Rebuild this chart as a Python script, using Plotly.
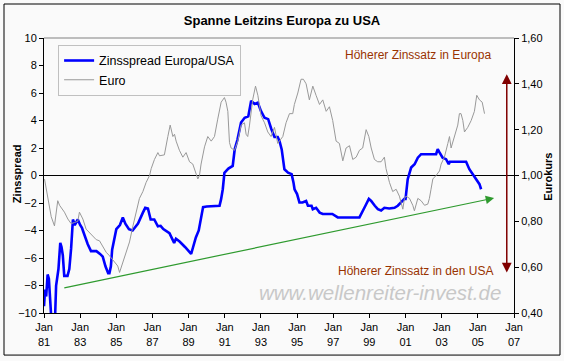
import plotly.graph_objects as go

# ---------------- data ----------------
spread_years = [1981.00, 1981.06, 1981.12, 1981.20, 1981.27, 1981.35, 1981.40, 1981.55, 1981.62, 1981.67,
                1981.80, 1981.90, 1981.97, 1982.04, 1982.12, 1982.30, 1982.40, 1982.50, 1982.60, 1982.70,
                1982.80, 1982.87, 1983.00, 1983.10, 1983.15, 1983.30, 1983.42, 1983.60, 1983.90, 1984.10,
                1984.25, 1984.40, 1984.55, 1984.62, 1984.70, 1984.77, 1984.90, 1985.00, 1985.20, 1985.36,
                1985.50, 1985.70, 1985.90, 1986.10, 1986.20, 1986.47, 1986.60, 1986.75, 1986.90, 1987.10,
                1987.30, 1987.45, 1987.60, 1987.94, 1988.20, 1988.30, 1988.50, 1988.80, 1989.14, 1989.25,
                1989.40, 1989.56, 1989.70, 1989.80, 1990.00, 1990.71, 1990.80, 1990.89, 1990.98, 1991.20,
                1991.44, 1991.55, 1991.70, 1991.90, 1992.10, 1992.30, 1992.46, 1992.65, 1992.83, 1993.00,
                1993.20, 1993.40, 1993.57, 1993.75, 1993.93, 1994.03, 1994.15, 1994.30, 1994.50, 1994.70,
                1994.80, 1994.86, 1995.00, 1995.13, 1995.30, 1995.50, 1995.60, 1995.80, 1995.87, 1996.05,
                1996.25, 1996.42, 1996.95, 1997.25, 1998.45, 1998.60, 1998.78, 1998.97, 1999.10, 1999.30,
                1999.47, 1999.65, 1999.83, 2000.10, 2000.39, 2000.57, 2000.76, 2000.94, 2001.00, 2001.04,
                2001.12, 2001.31, 2001.50, 2001.68, 2001.86, 2002.69, 2002.78, 2002.87, 2003.05, 2003.24,
                2003.39, 2003.45, 2004.35, 2004.53, 2004.72, 2004.90, 2005.09, 2005.18]
spread_values = [-9.5, -8.3, -8.8, -7.2, -7.5, -9.5, -10.3, -10.5, -10.0, -8.0,
                 -6.8, -4.9, -5.2, -5.8, -7.3, -7.3, -6.8, -5.3, -3.2, -3.6,
                 -3.4, -3.2, -3.6, -3.8, -4.0, -4.6, -5.0, -5.5, -5.5, -5.7,
                 -5.9, -6.6, -7.1, -7.1, -6.6, -5.4, -4.4, -3.9, -3.6, -3.05,
                 -3.5, -3.9, -4.0, -3.7, -3.5, -2.7, -2.35, -2.4, -3.2, -3.2,
                 -3.7, -3.66, -3.9, -4.2, -4.9, -4.6, -4.8, -5.2, -5.7, -5.2,
                 -4.5, -4.0, -2.9, -2.3, -2.25, -2.2, -1.7, -1.0, 0.2, 0.5,
                 0.7, 1.9, 2.6, 3.85, 4.2, 4.3, 5.43, 5.2, 5.3, 4.7,
                 4.2, 4.1, 3.4, 2.8, 2.8, 2.5, 1.9, 0.45, 0.2, 0.1,
                 -0.5, -1.0, -1.35, -1.96, -1.96, -1.85, -2.2, -2.2, -2.45, -2.35,
                 -2.7, -2.8, -2.8, -3.05, -3.05, -2.7, -2.2, -1.7, -1.85, -2.2,
                 -2.45, -2.55, -2.35, -2.4, -2.35, -2.2, -1.96, -1.7, -1.7, -1.24,
                 -0.27, 0.58, 0.82, 1.3, 1.55, 1.55, 1.92, 1.7, 1.3, 1.19,
                 0.82, 1.0, 1.0, 0.46, 0.1, -0.27, -0.63, -1.0]

euro_years = [1981.03, 1981.12, 1981.21, 1981.30, 1981.40, 1981.58, 1981.67, 1981.76, 1981.86, 1981.95,
              1982.13, 1982.32, 1982.50, 1982.69, 1982.87, 1982.96, 1983.15, 1983.33, 1983.52, 1983.70,
              1983.89, 1984.07, 1984.25, 1984.44, 1984.62, 1984.90, 1985.08, 1985.18, 1985.36, 1985.55,
              1985.73, 1985.92, 1986.10, 1986.28, 1986.47, 1986.65, 1986.84, 1986.93, 1987.11, 1987.30,
              1987.39, 1987.66, 1987.85, 1987.98, 1988.13, 1988.22, 1988.31, 1988.49, 1988.68, 1988.86,
              1989.05, 1989.23, 1989.42, 1989.51, 1989.60, 1989.69, 1989.88, 1990.06, 1990.25, 1990.43,
              1990.61, 1990.80, 1990.98, 1991.07, 1991.17, 1991.26, 1991.35, 1991.54, 1991.72, 1991.90,
              1992.09, 1992.18, 1992.27, 1992.37, 1992.55, 1992.70, 1992.83, 1993.01, 1993.20, 1993.38,
              1993.56, 1993.75, 1993.93, 1994.03, 1994.21, 1994.39, 1994.58, 1994.76, 1994.85, 1995.04,
              1995.22, 1995.35, 1995.50, 1995.68, 1995.87, 1996.05, 1996.24, 1996.42, 1996.61, 1996.79,
              1996.97, 1997.16, 1997.34, 1997.53, 1997.71, 1997.90, 1998.08, 1998.27, 1998.45, 1998.63,
              1998.82, 1998.97, 1999.10, 1999.28, 1999.46, 1999.65, 1999.83, 1999.92, 2000.11, 2000.29,
              2000.48, 2000.66, 2000.85, 2000.94, 2001.03, 2001.22, 2001.40, 2001.49, 2001.68, 2001.86,
              2002.05, 2002.23, 2002.32, 2002.41, 2002.51, 2002.69, 2002.88, 2002.97, 2003.15, 2003.34,
              2003.43, 2003.52, 2003.70, 2003.89, 2003.98, 2004.07, 2004.17, 2004.26, 2004.44, 2004.63,
              2004.81, 2004.94, 2005.09, 2005.24, 2005.37]
euro_values = [0.984, 0.94, 0.897, 0.853, 0.82, 0.78, 0.84, 0.89, 0.87, 0.86,
               0.84, 0.81, 0.79, 0.795, 0.80, 0.84, 0.81, 0.766, 0.75, 0.737,
               0.72, 0.715, 0.69, 0.665, 0.65, 0.62, 0.605, 0.577, 0.62, 0.665,
               0.71, 0.78, 0.84, 0.90, 0.93, 0.97, 1.00, 1.03, 1.07, 1.10,
               1.086, 1.09, 1.17, 1.22, 1.17, 1.18, 1.15, 1.11, 1.08, 1.10,
               1.06, 1.05, 1.006, 0.985, 1.00, 1.05, 1.125, 1.17, 1.15, 1.17,
               1.246, 1.32, 1.34, 1.32, 1.28, 1.144, 1.12, 1.11, 1.15, 1.22,
               1.23, 1.18, 1.17, 1.22, 1.333, 1.39, 1.35, 1.26, 1.23, 1.19,
               1.17, 1.21, 1.14, 1.15, 1.17, 1.23, 1.27, 1.27, 1.31, 1.36,
               1.42, 1.42, 1.40, 1.33, 1.39, 1.35, 1.31, 1.33, 1.28, 1.30,
               1.24, 1.15, 1.14, 1.064, 1.12, 1.13, 1.07, 1.08, 1.11, 1.12,
               1.20, 1.17, 1.12, 1.07, 1.06, 1.06, 1.08, 1.03, 0.97, 0.93,
               0.94, 0.91, 0.853, 0.90, 0.91, 0.90, 0.87, 0.846, 0.90, 0.89,
               0.87, 0.875, 0.90, 0.94, 0.985, 1.00, 1.02, 1.05, 1.08, 1.14,
               1.17, 1.12, 1.17, 1.22, 1.27, 1.27, 1.24, 1.19, 1.21, 1.24,
               1.28, 1.35, 1.33, 1.32, 1.27]

x_tick_years = list(range(1981, 2008, 2))
x_tick_labels = ["Jan<br>" + str(y)[-2:] for y in x_tick_years]
euro_tick_values = [0.4, 0.6, 0.8, 1.0, 1.2, 1.4, 1.6]
euro_tick_labels = ["0,40", "0,60", "0,80", "1,00", "1,20", "1,40", "1,60"]

trend_years = [1982.04, 2005.9]
trend_values = [-8.19, -1.64]
range_arrow_year = 2006.6
range_arrow_values = [7.37, -7.17]

FONT = "Arial, Liberation Sans, sans-serif"
BG = "#fafafa"

fig = go.Figure()
fig.add_trace(go.Scatter(x=spread_years, y=spread_values, mode="lines",
                         name="Zinsspread Europa/USA", line=dict(color="#0000ff", width=2.6),
                         yaxis="y"))
fig.add_trace(go.Scatter(x=euro_years, y=euro_values, mode="lines",
                         name="Euro", line=dict(color="#999999", width=1),
                         yaxis="y2"))

fig.update_layout(
    width=564, height=361,
    margin=dict(l=44, r=50, t=38, b=48),
    paper_bgcolor=BG, plot_bgcolor=BG,
    font=dict(family=FONT, size=11, color="black"),
    title=dict(text="<b>Spanne Leitzins Europa zu USA</b>", x=0.5, xanchor="center",
               y=1 - 20 / 361, yanchor="middle", font=dict(size=13, family=FONT, color="black")),
    showlegend=True,
    legend=dict(x=0.03, y=0.975, xanchor="left", yanchor="top", bgcolor=BG,
                bordercolor="#c0c0c0", borderwidth=1, font=dict(size=12.5, family=FONT),
                tracegroupgap=0, itemwidth=30),
    xaxis=dict(range=[1981, 2007], tickvals=x_tick_years, ticktext=x_tick_labels,
               ticks="outside", ticklen=4, tickcolor="black", showline=True, linecolor="black",
               linewidth=1, showgrid=False, zeroline=False, tickfont=dict(size=11)),
    yaxis=dict(range=[-10, 10], dtick=2, ticks="outside", ticklen=4, tickcolor="black",
               showline=True, linecolor="black", linewidth=1, showgrid=False,
               zeroline=True, zerolinecolor="black", zerolinewidth=1, tickfont=dict(size=11)),
    yaxis2=dict(range=[0.4, 1.6], overlaying="y", side="right", tickvals=euro_tick_values,
                ticktext=euro_tick_labels, ticks="outside", ticklen=4, tickcolor="black",
                showline=True, linecolor="black", linewidth=1, showgrid=False, zeroline=False,
                tickfont=dict(size=11)),
)

# outer frame and grey top border of the plot area
fig.add_shape(type="rect", xref="paper", yref="paper", x0=-0.0851, x1=1.0979, y0=-0.153, y1=1.1236,
              line=dict(color="black", width=1), fillcolor="rgba(0,0,0,0)", layer="below")
fig.add_shape(type="line", xref="paper", yref="paper", x0=0, x1=1, y0=1, y1=1,
              line=dict(color="#808080", width=1))

# axis titles
fig.add_annotation(text="<b>Zinsspread</b>", xref="paper", yref="paper", x=-0.0574, y=0.505,
                   xanchor="center", yanchor="middle",
                   textangle=-90, showarrow=False, font=dict(size=11, family=FONT))
fig.add_annotation(text="<b>Eurokurs</b>", xref="paper", yref="paper", x=1.0723, y=0.495,
                   xanchor="center", yanchor="middle",
                   textangle=-90, showarrow=False, font=dict(size=11, family=FONT))

# green trend arrow
fig.add_annotation(x=trend_years[1], y=trend_values[1], ax=trend_years[0], ay=trend_values[0],
                   xref="x", yref="y", axref="x", ayref="y", text="", showarrow=True,
                   arrowhead=2, arrowsize=1.4, arrowwidth=1.2, arrowcolor="#2e9a2e")
# dark red double arrow
fig.add_annotation(x=range_arrow_year, y=range_arrow_values[0], ax=range_arrow_year,
                   ay=range_arrow_values[1], xref="x", yref="y", axref="x", ayref="y", text="",
                   showarrow=True, arrowhead=2, startarrowhead=2, arrowside="end+start",
                   arrowsize=1.3, startarrowsize=1.3, arrowwidth=1.5, arrowcolor="#800000")

# texts
fig.add_annotation(text="Höherer Zinssatz in Europa", xref="paper", yref="paper", x=0.955, y=0.938,
                   xanchor="right", yanchor="middle", showarrow=False,
                   font=dict(size=12, family=FONT, color="#993300"))
fig.add_annotation(text="Höherer Zinssatz in den USA", xref="paper", yref="paper", x=0.96, y=0.153,
                   xanchor="right", yanchor="middle", showarrow=False,
                   font=dict(size=12, family=FONT, color="#993300"))
fig.add_annotation(text="<i>www.wellenreiter-invest.de</i>", xref="paper", yref="paper", x=0.977,
                   y=0.076, xanchor="right", yanchor="middle", showarrow=False,
                   font=dict(size=20.5, family=FONT, color="#c8c8c8"))

fig.write_html("out.html", config={"displayModeBar": False},
               post_script="document.body.style.margin='0px';document.body.style.background='#fafafa';")
